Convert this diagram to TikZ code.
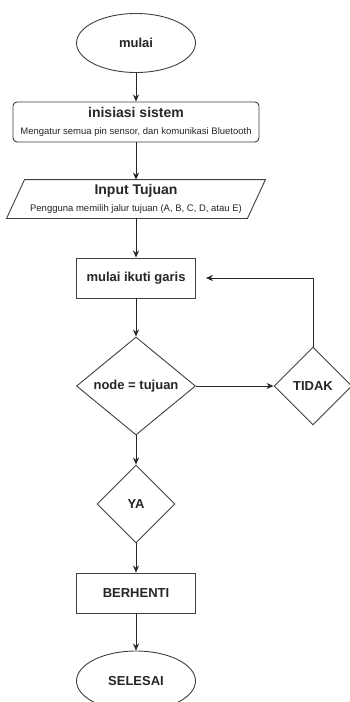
\documentclass[tikz,border=0pt]{standalone}
\usepackage{fontspec}
\setmainfont{Liberation Sans}
\usetikzlibrary{shapes.geometric,arrows.meta}
\begin{document}
\begin{tikzpicture}[x=1pt,y=-1pt,
  line width=0.9pt,
  every node/.style={font=\bfseries\fontsize{13}{15}\selectfont, text=black!85},
  box/.style={draw=black!75, rectangle, minimum width=119pt, minimum height=40pt, inner sep=0pt},
  oval/.style={draw=black!75, ellipse, minimum width=119pt, minimum height=59pt, inner sep=0pt},
  dia/.style={draw=black!75, diamond, inner sep=0pt},
  arr/.style={draw=black!85, -{Stealth[length=7pt,width=6pt]}},
]
\useasboundingbox (0,0) rectangle (350,702);
\fill[white] (0,0) rectangle (350,702);
\node[oval] (start) at (136,43) {mulai};
\node[box, rounded corners=4pt, minimum width=246pt, minimum height=40pt, align=center] (init) at (136,122)
  {{\fontsize{14}{15}\selectfont inisiasi sistem}\\[2pt]{\fontsize{9.5}{11}\selectfont\mdseries Mengatur semua pin sensor, dan komunikasi Bluetooth}};
\node[minimum width=240pt, minimum height=38pt, inner sep=0pt, align=center] (inp) at (136,199)
  {{\fontsize{14}{15}\selectfont Input Tujuan}\\[2pt]{\fontsize{9.5}{11}\selectfont\mdseries Pengguna memilih jalur tujuan (A, B, C, D, atau E)}};
\draw[draw=black!75] ([xshift=9pt]inp.north west) -- ([xshift=9pt]inp.north east)
  -- ([xshift=-9pt]inp.south east) -- ([xshift=-9pt]inp.south west) -- cycle;
\node[box] (mig) at (136,278) {mulai ikuti garis};
\node[dia, minimum width=119pt, minimum height=98pt] (dec) at (136,386) {node = tujuan};
\node[dia, minimum width=78pt, minimum height=78pt] (tidak) at (313,386) {TIDAK};
\node[dia, minimum width=78pt, minimum height=78pt] (ya) at (136,504) {YA};
\node[box] (stop) at (136,593) {BERHENTI};
\node[oval, minimum height=60pt] (end) at (136,681) {SELESAI};

\draw[arr] (start) -- (init);
\draw[arr] (init) -- (inp.north);
\draw[arr] (inp.south) -- (mig);
\draw[arr] (mig) -- (dec);
\draw[arr] (dec) -- (tidak);
\draw[arr, shorten >=10pt] (tidak.north) |- (mig.east);
\draw[arr] (dec) -- (ya);
\draw[arr] (ya) -- (stop);
\draw[arr] (stop) -- (end);
\end{tikzpicture}
\end{document}
